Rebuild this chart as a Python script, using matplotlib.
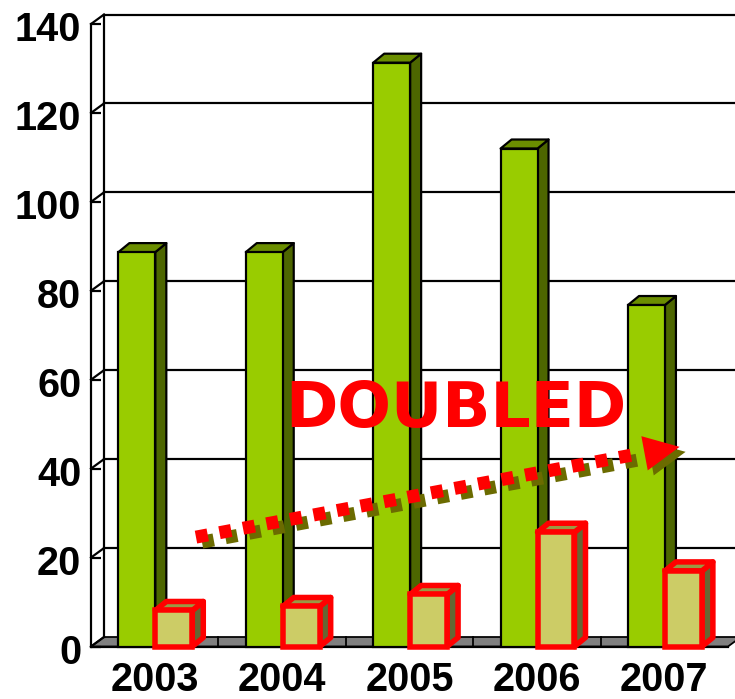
import matplotlib
matplotlib.use("Agg")
import matplotlib.pyplot as plt
from matplotlib.patches import Polygon
from matplotlib.transforms import ScaledTranslation

years = ["2003", "2004", "2005", "2006", "2007"]
green_values = [88.7, 88.7, 131.3, 112.0, 76.8]
red_values = [8.1, 9.0, 11.7, 25.7, 17.0]
y_ticks = [0, 20, 40, 60, 80, 100, 120, 140]
arrow_start = (0.824, 24.6)
arrow_end = (4.254, 43.1)
arrow_head = [(4.32, 47.3), (4.62, 44.9), (4.37, 39.6)]

W, H = 735, 699
L, R, B, T = 91, 728, 646.5, 24
fig = plt.figure(figsize=(W / 100, H / 100), dpi=100, facecolor="white")
ax = fig.add_axes([L / W, 1 - B / H, (R - L) / W, (B - T) / H])
ax.set_xlim(0, 5)
ax.set_ylim(0, 140)
ax.patch.set_visible(False)

px = (R - L) / 5          # pixels per category
py = (B - T) / 140        # pixels per value unit
lw2 = 0.72 * 2.2


def dx(p):
    return p / px


def dy(p):
    return p / py


wall_dx, wall_dy = dx(13), dy(9.5)
bar_dx, bar_dy = dx(11), dy(9)
shad_dx, shad_dy = dx(6), dy(-5)

# floor
ax.add_patch(Polygon([(0, 0), (wall_dx, wall_dy), (5 + wall_dx, wall_dy), (5, 0)],
                     closed=True, fc="#808080", ec="black", lw=lw2 * .8, clip_on=False, zorder=1))
for i in range(1, 5):
    ax.plot([i, i], [0, wall_dy], color="black", lw=lw2 * .8, zorder=1.5, clip_on=False)

# back wall + side wall
for v in y_ticks:
    if v > 0:
        ax.plot([wall_dx, 5 + wall_dx], [v + wall_dy, v + wall_dy], color="black", lw=lw2, zorder=1, clip_on=False)
    ax.plot([0, wall_dx], [v, v + wall_dy], color="black", lw=lw2, zorder=1, clip_on=False)
ax.plot([wall_dx, wall_dx], [wall_dy, 140 + wall_dy], color="black", lw=lw2, zorder=1, clip_on=False)


def box(x0, w, v, front, top, side, edge, lw, z):
    x1 = x0 + w
    ax.bar(x0, v, width=w, align="edge", color=front, edgecolor=edge, linewidth=lw, zorder=z + .2, clip_on=False)
    ax.add_patch(Polygon([(x1, 0), (x1 + bar_dx, bar_dy), (x1 + bar_dx, v + bar_dy), (x1, v)], closed=True,
                         fc=side, ec=edge, lw=lw, joinstyle="round", zorder=z + .1, clip_on=False))
    ax.add_patch(Polygon([(x0, v), (x0 + bar_dx, v + bar_dy), (x1 + bar_dx, v + bar_dy), (x1, v)], closed=True,
                         fc=top, ec=edge, lw=lw, joinstyle="round", zorder=z + .1, clip_on=False))


for i, g in enumerate(green_values):
    box(i + 0.215, 0.29, g, "#99CC00", "#6B8E00", "#4D6600", "black", lw2, 2 + i * .01)
for i, r in enumerate(red_values):
    box(i + 0.505, 0.29, r, "#CCCC66", "#999944", "#666633", "#FF0000", 0.72 * 5.5, 3 + i * .01)

# axes furniture
for s in ("top", "right"):
    ax.spines[s].set_visible(False)
ax.spines["left"].set_linewidth(lw2)
ax.spines["bottom"].set_linewidth(lw2)
ax.spines["left"].set_zorder(1)
ax.spines["bottom"].set_zorder(1.6)
ax.set_yticks(y_ticks)
ax.set_yticklabels([str(v) for v in y_ticks])
ax.set_xticks([i + 0.5 for i in range(5)])
ax.set_xticklabels(years)
lab = dict(family=["Liberation Sans", "DejaVu Sans"], fontweight="bold", color="black")
for t in ax.get_xticklabels():
    t.set(fontsize=28.5, **lab)
for t in ax.get_yticklabels():
    t.set(fontsize=28.5, **lab)
ax.tick_params(axis="y", direction="in", length=7, width=lw2, pad=7)
ax.tick_params(axis="x", length=0, pad=10.5)
shift = ScaledTranslation(0, -2 / 100, fig.dpi_scale_trans)
for t in ax.get_yticklabels():
    t.set_transform(t.get_transform() + shift)

# arrow, shadow then red
for off_x, off_y, col, z in ((shad_dx, shad_dy, "#6B6B00", 5), (0, 0, "#FF0000", 6)):
    ax.plot([arrow_start[0] + off_x, arrow_end[0] + off_x], [arrow_start[1] + off_y, arrow_end[1] + off_y],
            color=col, lw=0.72 * 13, dashes=(0.92, 0.92), dash_capstyle="butt", zorder=z, clip_on=False)
    ax.add_patch(Polygon([(x + off_x, y + off_y) for x, y in arrow_head], closed=True, fc=col, ec="none",
                         zorder=z + .5, clip_on=False))

ax.text(2.865, 53.1, "DOUBLED", color="#FF0000", fontsize=45.5, fontweight="bold", family="DejaVu Sans",
        ha="center", va="center", zorder=7)

fig.savefig("out.png", dpi=100, facecolor="white")
